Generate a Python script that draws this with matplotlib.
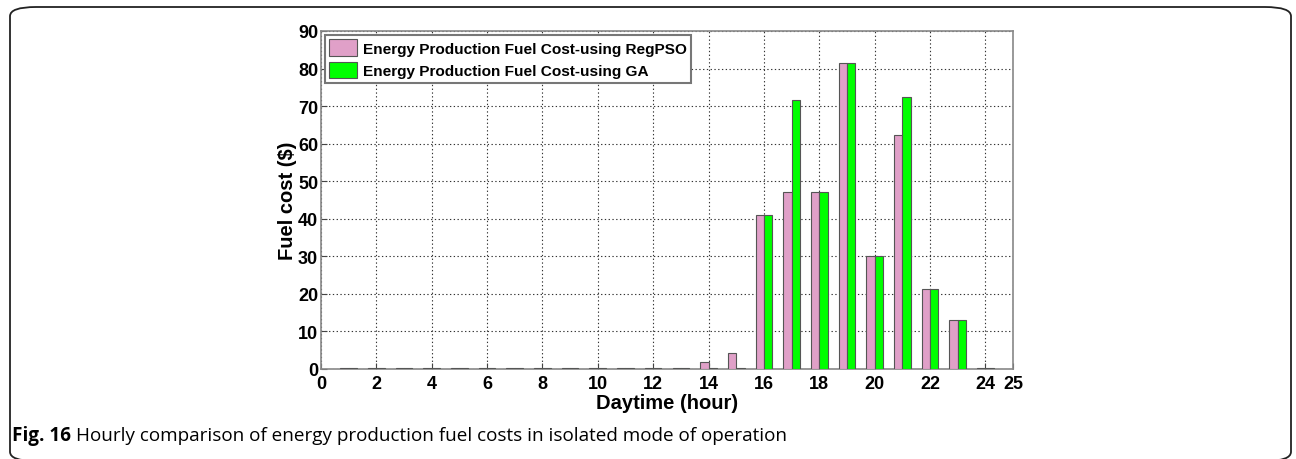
import matplotlib.pyplot as plt
import numpy as np
from matplotlib.patches import FancyBboxPatch

# 数据
hours = list(range(1, 25))
cost_regpso = [0.3, 0.3, 0.3, 0.3, 0.3, 0.3, 0.3, 0.3, 0.3, 0.3, 0.3, 0.3, 0.3,
               1.8, 4.3, 41.0, 47.2, 47.2, 81.5, 30.2, 62.2, 21.3, 13.0, 0.3]
cost_ga = [0.3, 0.3, 0.3, 0.3, 0.3, 0.3, 0.3, 0.3, 0.3, 0.3, 0.3, 0.3, 0.3,
           0.3, 0.3, 41.0, 71.5, 47.2, 81.5, 30.2, 72.5, 21.3, 13.0, 0.3]
label_regpso = 'Energy Production Fuel Cost-using RegPSO'
label_ga = 'Energy Production Fuel Cost-using GA'
xticks = list(range(0, 25, 2)) + [25]
yticks = list(range(0, 91, 10))

plt.rcParams['font.family'] = ['Liberation Sans', 'DejaVu Sans']

fig = plt.figure(figsize=(12.96, 4.6), dpi=100)

# 外框
frame = FancyBboxPatch((10 / 1296, 1 - 462 / 460), 1281 / 1296, 454 / 460,
                       boxstyle='round,pad=0,rounding_size=0.02',
                       transform=fig.transFigure, fill=False,
                       edgecolor='#222222', linewidth=1.3, clip_on=False)
fig.patches.append(frame)

ax = fig.add_axes([321 / 1296, 1 - 370 / 460, 692 / 1296, 338 / 460])

x = np.array(hours)
w = 0.3
ax.bar(x - w / 2, cost_regpso, width=w, color='#E0A0C8', edgecolor='#555555',
       linewidth=0.8, label=label_regpso, zorder=3)
ax.bar(x + w / 2, cost_ga, width=w, color='#00FF00', edgecolor='#555555',
       linewidth=0.8, label=label_ga, zorder=3)

ax.set_xlim(0, 25)
ax.set_ylim(0, 90)
ax.set_xticks(xticks)
ax.set_yticks(yticks)
ax.tick_params(direction='in', length=4, width=0.8, color='#444444')
ax.tick_params(axis='x', pad=4)
ax.tick_params(axis='y', pad=2)
for lab in ax.get_xticklabels() + ax.get_yticklabels():
    lab.set_fontweight('bold')
    lab.set_fontsize(13)
ax.grid(True, linestyle=(0, (1.2, 2.2)), color='#333333', linewidth=0.8, zorder=0)
for sp in ax.spines.values():
    sp.set_color('#888888')
    sp.set_linewidth(1.2)

ax.set_xlabel('Daytime (hour)', fontsize=14.5, fontweight='bold', labelpad=1)
ax.set_ylabel('Fuel cost ($)', fontsize=14.5, fontweight='bold', labelpad=1)

leg = ax.legend(loc='upper left', prop={'weight': 'bold', 'size': 11.1},
                handlelength=1.8, handleheight=1.3, handletextpad=0.35,
                borderaxespad=0.25, borderpad=0.3, labelspacing=0.35,
                fancybox=False, framealpha=1)
leg.get_frame().set_edgecolor('#777777')
leg.get_frame().set_linewidth(1.5)

# 图注
fig.canvas.draw()
t1 = fig.text(12 / 1296, 1 - 436 / 460, 'Fig. 16', fontsize=13.6, fontweight='bold',
              family=['Open Sans', 'DejaVu Sans'], va='center', ha='left')
bb = t1.get_window_extent(renderer=fig.canvas.get_renderer())
fig.text((bb.x1 + 5) / 1296, 1 - 436 / 460,
         'Hourly comparison of energy production fuel costs in isolated mode of operation',
         fontsize=13.6, family=['Open Sans', 'DejaVu Sans'], va='center', ha='left')

fig.savefig('out.png', dpi=100)
